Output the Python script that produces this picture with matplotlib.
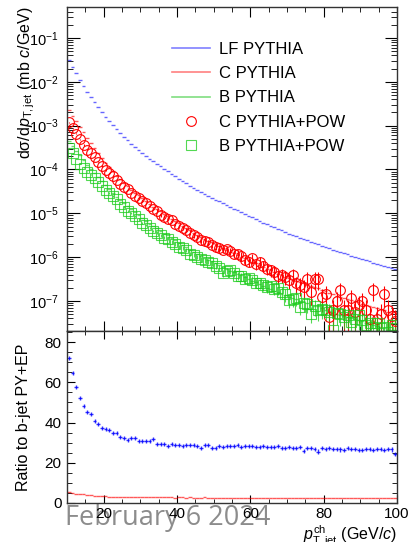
import numpy as np
import matplotlib
matplotlib.use("Agg")
import matplotlib.pyplot as plt
from matplotlib.lines import Line2D
from matplotlib.ticker import MultipleLocator, LogLocator, NullFormatter

plt.rcParams['font.family'] = ['Liberation Sans', 'DejaVu Sans']
plt.rcParams['mathtext.fontset'] = 'custom'
plt.rcParams['mathtext.rm'] = 'Liberation Sans'
plt.rcParams['mathtext.it'] = 'Liberation Sans:italic'
plt.rcParams['mathtext.bf'] = 'Liberation Sans:bold'
plt.rcParams['mathtext.sf'] = 'Liberation Sans'

# bins: 1 GeV wide, 10..100 GeV/c
bin_low = list(range(10, 100))

# spectra, stored as log10(mb c/GeV)
lf_pythia_log10 = [
    -1.50, -1.66, -1.81, -1.96, -2.10, -2.23, -2.35, -2.47, -2.58, -2.69,
    -2.80, -2.90, -2.99, -3.08, -3.17, -3.25, -3.33, -3.41, -3.48, -3.55,
    -3.62, -3.69, -3.75, -3.81, -3.87, -3.93, -3.99, -4.045, -4.10, -4.155,
    -4.21, -4.265, -4.315, -4.37, -4.42, -4.47, -4.52, -4.56, -4.605, -4.645,
    -4.69, -4.73, -4.77, -4.81, -4.85, -4.89, -4.93, -4.97, -5.01, -5.05,
    -5.09, -5.13, -5.17, -5.21, -5.25, -5.285, -5.32, -5.355, -5.39, -5.425,
    -5.46, -5.49, -5.525, -5.555, -5.585, -5.615, -5.645, -5.675, -5.705, -5.735,
    -5.765, -5.795, -5.825, -5.855, -5.883, -5.91, -5.937, -5.964, -5.99, -6.017,
    -6.044, -6.07, -6.097, -6.123, -6.15, -6.176, -6.202, -6.228, -6.254, -6.28,
]
c_pythia_log10 = [
    -2.636, -2.771, -2.898, -3.027, -3.147, -3.277, -3.399, -3.517, -3.619, -3.734,
    -3.846, -3.95, -4.044, -4.143, -4.22, -4.298, -4.38, -4.46, -4.53, -4.59,
    -4.66, -4.73, -4.79, -4.85, -4.89, -4.95, -5.02, -5.065, -5.12, -5.175,
    -5.23, -5.285, -5.335, -5.39, -5.44, -5.485, -5.53, -5.575, -5.62, -5.655,
    -5.70, -5.75, -5.79, -5.83, -5.875, -5.913, -5.955, -5.987, -6.03, -6.074,
    -6.112, -6.144, -6.186, -6.23, -6.267, -6.296, -6.346, -6.385, -6.41, -6.443,
    -6.482, -6.505, -6.544, -6.575, -6.585, -6.633, -6.662, -6.687, -6.695, -6.75,
    -6.775, -6.821, -6.845, -6.875, -6.898, -6.922, -6.962, -6.984, -7.01, -7.029,
    -7.057, -7.088, -7.114, -7.133, -7.17, -7.193, -7.215, -7.246, -7.269, -7.254,
]
b_pythia_log10 = [
    -3.36, -3.47, -3.57, -3.68, -3.78, -3.89, -3.99, -4.085, -4.175, -4.265,
    -4.365, -4.455, -4.535, -4.62, -4.69, -4.76, -4.83, -4.91, -4.98, -5.04,
    -5.11, -5.18, -5.24, -5.30, -5.34, -5.40, -5.46, -5.505, -5.56, -5.615,
    -5.67, -5.725, -5.775, -5.83, -5.88, -5.925, -5.97, -6.015, -6.06, -6.095,
    -6.14, -6.18, -6.22, -6.26, -6.305, -6.343, -6.385, -6.417, -6.46, -6.504,
    -6.542, -6.574, -6.616, -6.66, -6.697, -6.726, -6.766, -6.805, -6.83, -6.863,
    -6.902, -6.925, -6.964, -6.995, -7.005, -7.053, -7.082, -7.107, -7.115, -7.17,
    -7.195, -7.231, -7.255, -7.285, -7.308, -7.332, -7.372, -7.394, -7.42, -7.439,
    -7.467, -7.498, -7.524, -7.543, -7.58, -7.603, -7.625, -7.656, -7.679, -7.664,
]
c_pow_log10 = [
    -2.92, -3.06, -3.18, -3.31, -3.44, -3.55, -3.63, -3.71, -3.82, -3.92,
    -4.01, -4.09, -4.15, -4.23, -4.32, -4.39, -4.44, -4.53, -4.60, -4.64,
    -4.72, -4.76, -4.83, -4.90, -4.94, -5.04, -5.08, -5.12, -5.16, -5.25,
    -5.30, -5.34, -5.38, -5.44, -5.50, -5.55, -5.61, -5.64, -5.66, -5.72,
    -5.77, -5.80, -5.83, -5.82, -5.86, -5.93, -5.92, -5.97, -6.07, -6.11,
    -6.03, -6.16, -6.11, -6.20, -6.26, -6.30, -6.33, -6.43, -6.41, -6.45,
    -6.52, -6.41, -6.60, -6.64, -6.68, -6.49, -6.79, -6.49, -6.50, -6.91,
    -6.85, -7.36, -7.21, -7.00, -6.75, -7.21, -7.21, -6.92, -7.25, -7.10,
    -7.00, -7.21, -7.40, -6.75, -7.40, -7.30, -6.84, -7.21, -7.35, -7.45,
]
b_pow_log10 = [
    -3.52, -3.63, -3.76, -3.87, -3.96, -4.05, -4.12, -4.20, -4.29, -4.38,
    -4.46, -4.53, -4.61, -4.68, -4.78, -4.86, -4.94, -5.00, -5.07, -5.14,
    -5.22, -5.27, -5.33, -5.40, -5.44, -5.50, -5.56, -5.58, -5.65, -5.70,
    -5.76, -5.79, -5.84, -5.92, -5.95, -5.99, -6.05, -6.07, -6.10, -6.14,
    -6.20, -6.24, -6.37, -6.31, -6.30, -6.35, -6.42, -6.44, -6.50, -6.47,
    -6.53, -6.58, -6.60, -6.63, -6.68, -6.66, -6.72, -6.70, -6.79, -6.85,
    -6.98, -6.96, -6.93, -7.13, -7.05, -7.06, -7.29, -7.12, -7.21, -7.18,
    -7.20, -7.24, -7.65, -7.28, -7.30, -7.36, -7.33, -7.48, -7.40, -7.32,
    -7.44, -7.55, -7.51, -7.59, -7.50, -7.62, -7.60, -7.70, -7.55, -7.62,
]
# relative statistical uncertainties of the POWHEG points
c_pow_relerr = [
    0.02, 0.02, 0.02, 0.02, 0.03, 0.03, 0.03, 0.03, 0.03, 0.03,
    0.04, 0.04, 0.04, 0.04, 0.05, 0.05, 0.05, 0.05, 0.06, 0.06,
    0.06, 0.07, 0.07, 0.07, 0.08, 0.08, 0.08, 0.09, 0.09, 0.10,
    0.10, 0.11, 0.11, 0.12, 0.12, 0.13, 0.13, 0.14, 0.15, 0.15,
    0.16, 0.17, 0.17, 0.18, 0.19, 0.20, 0.21, 0.22, 0.23, 0.24,
    0.25, 0.26, 0.27, 0.28, 0.30, 0.31, 0.32, 0.34, 0.35, 0.36,
    0.38, 0.36, 0.42, 0.44, 0.46, 0.40, 0.50, 0.42, 0.44, 0.55,
    0.55, 0.80, 0.70, 0.60, 0.45, 0.70, 0.70, 0.50, 0.70, 0.60,
    0.55, 0.70, 0.80, 0.45, 0.80, 0.75, 0.50, 0.70, 0.75, 0.80,
]
b_pow_relerr = [
    0.02, 0.02, 0.02, 0.02, 0.02, 0.03, 0.03, 0.03, 0.03, 0.03,
    0.03, 0.04, 0.04, 0.04, 0.04, 0.05, 0.05, 0.05, 0.05, 0.06,
    0.06, 0.06, 0.07, 0.07, 0.07, 0.08, 0.08, 0.08, 0.09, 0.09,
    0.10, 0.10, 0.11, 0.11, 0.12, 0.12, 0.13, 0.13, 0.14, 0.14,
    0.15, 0.16, 0.17, 0.17, 0.18, 0.19, 0.20, 0.20, 0.21, 0.22,
    0.23, 0.24, 0.25, 0.26, 0.27, 0.28, 0.29, 0.30, 0.31, 0.32,
    0.33, 0.34, 0.35, 0.36, 0.37, 0.38, 0.40, 0.40, 0.42, 0.42,
    0.44, 0.45, 0.60, 0.46, 0.47, 0.48, 0.50, 0.52, 0.52, 0.54,
    0.55, 0.56, 0.58, 0.58, 0.60, 0.60, 0.62, 0.64, 0.65, 0.66,
]

# ratio panel
ratio_lf = [
    72.3, 64.5, 57.7, 52.3, 48.2, 45.3, 44.0, 41.0, 39.3, 37.5,
    37.0, 36.2, 35.0, 35.0, 32.8, 32.2, 31.5, 32.5, 32.5, 30.7,
    30.7, 31.0, 31.0, 31.8, 29.3, 29.3, 29.3, 28.5, 29.3, 28.8,
    28.8, 28.2, 28.8, 28.8, 28.8, 28.5, 27.5, 28.8, 28.8, 27.5,
    27.5, 28.5, 28.0, 28.2, 28.5, 28.4, 28.6, 27.9, 28.1, 28.5,
    28.3, 27.8, 27.9, 28.2, 28.0, 27.6, 27.9, 28.3, 27.5, 27.4,
    27.7, 27.1, 27.5, 27.6, 26.0, 27.4, 27.5, 27.0, 25.6, 27.2,
    26.8, 27.3, 26.9, 27.0, 26.6, 26.4, 27.2, 26.9, 27.0, 26.4,
    26.5, 26.8, 26.7, 26.3, 26.9, 26.7, 26.5, 26.8, 26.6, 24.2,
]
ratio_c = [
    5.3, 5.0, 4.7, 4.5, 4.3, 4.1, 3.9, 3.7, 3.6, 3.4,
    3.3, 3.2, 3.1, 3.0, 2.95, 2.9, 2.85, 2.85, 2.8, 2.85,
    2.8, 2.8, 2.8, 2.75, 2.8, 2.75, 2.75, 2.8, 2.75, 2.7,
    2.75, 2.75, 2.7, 2.75, 2.7, 2.7, 2.7, 2.75, 2.7, 2.7,
    2.65, 2.7, 2.7, 2.65, 2.7, 2.65, 2.7, 2.65, 2.65, 2.7,
    2.65, 2.65, 2.6, 2.65, 2.65, 2.6, 2.65, 2.6, 2.65, 2.6,
    2.6, 2.65, 2.6, 2.6, 2.55, 2.6, 2.6, 2.6, 2.55, 2.6,
    2.6, 2.55, 2.6, 2.55, 2.6, 2.55, 2.55, 2.6, 2.55, 2.55,
    2.6, 2.55, 2.55, 2.5, 2.55, 2.55, 2.5, 2.55, 2.5, 2.55,
]
ratio_lf_err = 1.0

x = np.array(bin_low) + 0.5
lf = 10.0 ** np.array(lf_pythia_log10)
cpy = 10.0 ** np.array(c_pythia_log10)
bpy = 10.0 ** np.array(b_pythia_log10)
cpow = 10.0 ** np.array(c_pow_log10)
bpow = 10.0 ** np.array(b_pow_log10)

blue = (0.0, 0.0, 1.0, 0.6)
red = (1.0, 0.0, 0.0, 0.65)
green = (0.0, 0.75, 0.0, 0.55)
sq_green = (0.1, 0.8, 0.1, 0.75)

fig = plt.figure(figsize=(4.08, 5.42), dpi=100)
ax1 = fig.add_axes([67/408, 1-331/542, 330/408, 324/542])
ax2 = fig.add_axes([67/408, 1-503/542, 330/408, 172/542])

# --- top panel
ax1.errorbar(x, lf, xerr=0.5, fmt='none', ecolor=blue, elinewidth=1.0)
ax1.errorbar(x, cpy, xerr=0.5, fmt='none', ecolor=red, elinewidth=1.0)
ax1.errorbar(x, bpy, xerr=0.5, fmt='none', ecolor=green, elinewidth=1.0)
ax1.errorbar(x, cpow, yerr=cpow*np.array(c_pow_relerr), fmt='o', ms=7,
             mfc='none', mec='#ff0000', mew=0.8, ecolor='#ff0000', elinewidth=0.8)
ax1.errorbar(x, bpow, yerr=bpow*np.array(b_pow_relerr), fmt='s', ms=6.5,
             mfc='none', mec=sq_green, mew=0.8, ecolor=sq_green, elinewidth=0.8)

ax1.set_yscale('log')
ax1.set_xlim(10, 100)
ax1.set_ylim(2.07e-8, 0.509)
ax1.yaxis.set_major_locator(LogLocator(base=10, numticks=20))
ax1.yaxis.set_minor_locator(LogLocator(base=10, subs=np.arange(2, 10), numticks=20))
ax1.yaxis.set_minor_formatter(NullFormatter())
ax1.xaxis.set_major_locator(MultipleLocator(20))
ax1.xaxis.set_minor_locator(MultipleLocator(5))
ax1.tick_params(axis='x', labelbottom=False)
ax1.tick_params(which='both', direction='in', top=True, right=True, labelsize=10.5)
ax1.tick_params(axis='y', which='major', length=9, width=0.8, pad=6)
ax1.tick_params(axis='y', which='minor', length=4.5, width=0.6)
ax1.tick_params(axis='x', which='major', length=7, width=0.8)
ax1.tick_params(axis='x', which='minor', length=3.5, width=0.6)
ax1.set_ylabel('dσ/d$p_{\\mathrm{T,jet}}$ (mb $c$/GeV)', fontsize=11.5, loc='top')
ax1.yaxis.set_label_coords(-0.092, 1.0)

handles = [
    Line2D([], [], color=(0.5, 0.5, 1.0), lw=1.2),
    Line2D([], [], color=(1.0, 0.5, 0.5), lw=1.2),
    Line2D([], [], color=(0.5, 0.87, 0.5), lw=1.2),
    Line2D([], [], ls='none', marker='o', ms=7, mfc='none', mec='#ff0000', mew=0.8),
    Line2D([], [], ls='none', marker='s', ms=6.5, mfc='none', mec=sq_green, mew=0.8),
]
labels = ['LF PYTHIA', 'C PYTHIA', 'B PYTHIA', 'C PYTHIA+POW', 'B PYTHIA+POW']
ax1.legend(handles, labels, loc='upper left', bbox_to_anchor=(0.318, 0.893),
           frameon=False, fontsize=12, handlelength=2.3, handletextpad=0.55,
           labelspacing=0.56, borderpad=0, borderaxespad=0)

# --- ratio panel
ax2.errorbar(x, ratio_lf, xerr=0.5, yerr=ratio_lf_err, fmt='none',
             ecolor=(0.0, 0.0, 1.0, 0.8), elinewidth=1.0)
ax2.errorbar(x, ratio_c, xerr=0.5, fmt='none', ecolor=red, elinewidth=1.0)
ax2.set_xlim(10, 100)
ax2.set_ylim(0, 85.5)
ax2.xaxis.set_major_locator(MultipleLocator(20))
ax2.xaxis.set_minor_locator(MultipleLocator(5))
ax2.yaxis.set_major_locator(MultipleLocator(20))
ax2.yaxis.set_minor_locator(MultipleLocator(5))
ax2.tick_params(which='both', direction='in', top=True, right=True, labelsize=11)
ax2.tick_params(axis='y', which='major', length=6, width=0.8, pad=4)
ax2.tick_params(axis='y', which='minor', length=3.5, width=0.6)
ax2.tick_params(axis='x', which='major', length=6, width=0.8, pad=3)
ax2.tick_params(axis='x', which='minor', length=3, width=0.6)
ax2.set_ylabel('Ratio to b-jet PY+EP', fontsize=11.5)
ax2.yaxis.set_label_coords(-0.11, 0.5)
ax2.set_xlabel('$p_{\\mathrm{T,jet}}^{\\mathrm{ch}}$ (GeV/$c$)', fontsize=11.5, loc='right')
ax2.xaxis.set_label_coords(1.0, -0.12)

for ax in (ax1, ax2):
    for s in ax.spines.values():
        s.set_linewidth(1.0)
        s.set_color('#333333')

fig.text(65/408, 1-525/542, 'February 6 2024', fontsize=19.5, color='#8c8c8c',
         family='Open Sans', va='baseline', ha='left', zorder=-1)

fig.savefig('out.png', dpi=100)
